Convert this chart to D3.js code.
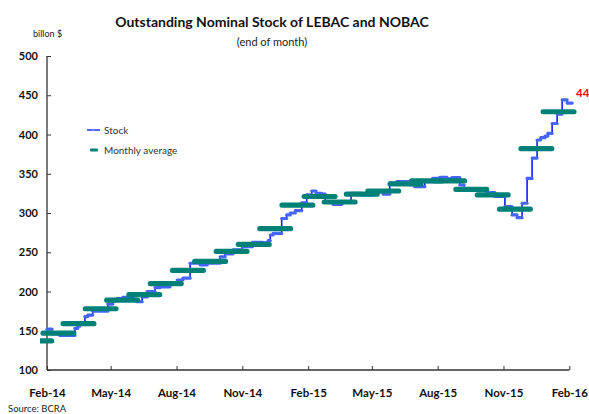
<!DOCTYPE html>
<html>
<head>
<meta charset="utf-8">
<script src="https://cdn.jsdelivr.net/npm/d3@7"></script>
<style>
body { margin: 0; background: #fff; }
text { font-family: Lato, "Open Sans", sans-serif; }
</style>
</head>
<body>
<script>
var w = 589
var h = 414

// monthly average (billion $)
var avgMonths = ["2014-01", "2014-02", "2014-03", "2014-04", "2014-05", "2014-06", "2014-07", "2014-08", "2014-09", "2014-10", "2014-11", "2014-12",
    "2015-01", "2015-02", "2015-03", "2015-04", "2015-05", "2015-06", "2015-07", "2015-08", "2015-09", "2015-10", "2015-11", "2015-12", "2016-01"]
var avgValues = [137, 147, 159, 178, 189, 196, 210, 227, 238.5, 251, 260, 280,
    310, 321, 314, 324, 328, 337, 341, 341, 330, 323, 305, 382, 429]

// stock, value holds until next date
var stockDates = ["2014-02-01", "2014-02-08", "2014-02-19", "2014-03-12", "2014-03-16", "2014-03-19", "2014-03-26", "2014-03-30", "2014-04-06",
    "2014-04-27", "2014-05-04", "2014-05-10", "2014-05-18", "2014-06-01", "2014-06-07", "2014-06-14", "2014-06-21", "2014-07-02", "2014-07-09",
    "2014-07-23", "2014-08-02", "2014-08-10", "2014-08-20", "2014-09-03", "2014-09-13", "2014-10-01", "2014-10-08", "2014-10-19", "2014-11-01",
    "2014-11-15", "2014-11-30", "2014-12-07", "2014-12-10", "2014-12-14", "2014-12-26", "2015-01-02", "2015-01-07", "2015-01-14", "2015-01-23",
    "2015-01-30", "2015-02-06", "2015-02-12", "2015-02-20", "2015-02-25", "2015-03-08", "2015-03-20", "2015-04-02", "2015-04-17", "2015-05-03",
    "2015-05-17", "2015-05-26", "2015-06-05", "2015-06-23", "2015-06-30", "2015-07-14", "2015-07-25", "2015-08-04", "2015-08-14", "2015-08-21",
    "2015-09-01", "2015-09-07", "2015-09-29", "2015-10-09", "2015-10-20", "2015-11-03", "2015-11-13", "2015-11-20", "2015-11-27", "2015-12-04",
    "2015-12-11", "2015-12-18", "2015-12-23", "2015-12-29", "2016-01-02", "2016-01-08", "2016-01-15", "2016-01-22", "2016-01-29", "2016-02-05"]
var stockValues = [152, 146, 144, 153, 156, 158, 168, 170, 175,
    184, 188, 191, 192.6, 190, 187, 193, 200, 205, 206,
    210, 214.6, 217, 236, 234, 236, 244, 248, 253, 257,
    262.6, 262, 265, 272, 274, 293, 297.5, 300, 303, 313,
    323, 328, 325, 324, 314, 311, 313.6, 325, 323, 327,
    324, 338, 340, 336, 333.5, 340, 344, 345.5, 343.5, 345,
    335.7, 330, 329, 326, 321, 308, 297.5, 294, 312.4, 344,
    370, 393, 396, 398, 401.5, 414, 426, 444, 440, 440]

var xTicks = ["2014-02-01", "2014-05-01", "2014-08-01", "2014-11-01", "2015-02-01", "2015-05-01", "2015-08-01", "2015-11-01", "2016-02-01"]
var yTicks = [100, 150, 200, 250, 300, 350, 400, 450, 500]

var parse = d3.timeParse("%Y-%m-%d")
var parseMonth = d3.timeParse("%Y-%m")

var stock = stockDates.map(function (d, i) { return { date: parse(d), value: stockValues[i] } })
var avg = avgMonths.map(function (m, i) {
    var d = parseMonth(m)
    return { date: new Date(d.getFullYear(), d.getMonth(), 17), value: avgValues[i] }
})

var x = d3.scaleTime()
    .domain([parse("2014-02-01"), parse("2016-02-01")])
    .range([47, 569.3])

var y = d3.scaleLinear()
    .domain([100, 500])
    .range([370, 56])

var svg = d3.select("body")
    .append("svg")
    .attr("width", w)
    .attr("height", h)

svg.append("clipPath")
    .attr("id", "plot")
    .append("rect")
    .attr("x", 40)
    .attr("y", 40)
    .attr("width", w - 40)
    .attr("height", 340)

// titles
svg.append("text")
    .attr("x", 272).attr("y", 27)
    .attr("text-anchor", "middle")
    .style("font-size", "14px").style("font-weight", "bold").style("fill", "#111")
    .text("Outstanding Nominal Stock of LEBAC and NOBAC")
svg.append("text")
    .attr("x", 272).attr("y", 46)
    .attr("text-anchor", "middle")
    .style("font-size", "11px").style("fill", "#222")
    .text("(end of month)")
svg.append("text")
    .attr("x", 33).attr("y", 36.5)
    .style("font-size", "9px").style("fill", "#222")
    .text("billon $")
svg.append("text")
    .attr("x", 8).attr("y", 412)
    .style("font-size", "9.5px").style("fill", "#222")
    .text("Source: BCRA")

// axes
var yAxis = svg.append("g")
    .attr("transform", "translate(47,0)")
    .call(d3.axisRight(y).tickValues(yTicks).tickSize(4).tickFormat(d3.format("d")))
yAxis.select(".domain").attr("d", "M0," + y(500) + "V" + y(100)).attr("stroke", "#333").attr("stroke-width", 1.3)
yAxis.selectAll(".tick line").attr("stroke", "#333")
yAxis.selectAll(".tick text")
    .attr("x", -9).attr("text-anchor", "end")
    .style("font-size", "11px").style("font-weight", "bold").style("fill", "#111").style("font-family", "Lato, sans-serif")

var xAxis = svg.append("g")
    .attr("transform", "translate(0,370)")
    .call(d3.axisTop(x).tickValues(xTicks.map(parse)).tickSize(4).tickFormat(d3.timeFormat("%b-%y")))
xAxis.select(".domain").attr("d", "M47,0H" + x(parse("2016-02-01"))).attr("stroke", "#333").attr("stroke-width", 1.3)
xAxis.selectAll(".tick line").attr("stroke", "#333")
xAxis.selectAll(".tick text")
    .attr("y", 27).attr("dy", 0)
    .style("font-size", "11.5px").style("font-weight", "bold").style("fill", "#111").style("font-family", "Lato, sans-serif")

var plot = svg.append("g").attr("clip-path", "url(#plot)")

// stock line: thin dark steps + light thick flats
var line = d3.line()
    .x(function (d) { return x(d.date) })
    .y(function (d) { return y(d.value) })
    .curve(d3.curveStepAfter)

plot.append("path")
    .datum(stock)
    .attr("d", line)
    .attr("fill", "none")
    .attr("stroke", "#1020ee")
    .attr("stroke-width", 1.6)

plot.selectAll(".flat")
    .data(stock.slice(0, -1))
    .enter()
    .append("line")
    .attr("class", "flat")
    .attr("x1", function (d) { return x(d.date) })
    .attr("x2", function (d, i) { return x(stock[i + 1].date) })
    .attr("y1", function (d) { return y(d.value) })
    .attr("y2", function (d) { return y(d.value) })
    .attr("stroke", "#4664ff")
    .attr("stroke-width", 3.2)
    .attr("stroke-linecap", "round")

// monthly average bars
plot.selectAll(".avg")
    .data(avg)
    .enter()
    .append("rect")
    .attr("class", "avg")
    .attr("x", function (d) { return x(d.date) - 18 })
    .attr("y", function (d) { return y(d.value) - 2.6 })
    .attr("width", 36)
    .attr("height", 5.2)
    .attr("rx", 2.5)
    .attr("fill", "#008178")

// last value label
svg.append("text")
    .attr("x", 576).attr("y", 97)
    .style("font-size", "11.5px").style("font-weight", "bold").style("fill", "#ff0000")
    .text("44")

// legend
var legend = svg.append("g")
legend.append("line")
    .attr("x1", 87).attr("x2", 100).attr("y1", 130).attr("y2", 130)
    .attr("stroke", "#2030ff").attr("stroke-width", 1.5)
legend.append("circle")
    .attr("cx", 93.5).attr("cy", 130).attr("r", 1.3).attr("fill", "#6a86ff")
legend.append("text")
    .attr("x", 104).attr("y", 134)
    .style("font-size", "10px").style("fill", "#333")
    .text("Stock")
legend.append("rect")
    .attr("x", 90).attr("y", 148.5).attr("width", 8).attr("height", 3).attr("rx", 1)
    .attr("fill", "#008178")
legend.append("text")
    .attr("x", 104).attr("y", 154)
    .style("font-size", "10px").style("fill", "#333")
    .text("Monthly average")
</script>
</body>
</html>
